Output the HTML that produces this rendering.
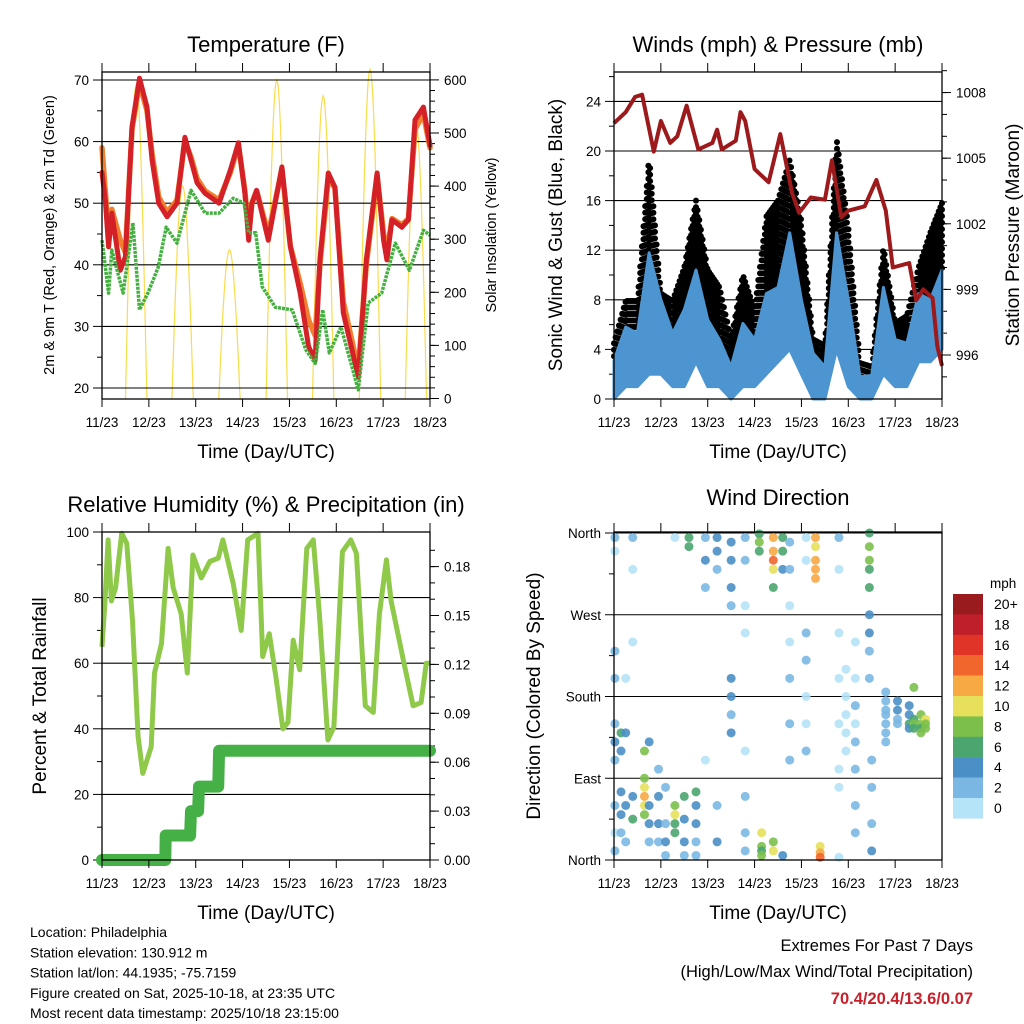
<!DOCTYPE html>
<html><head><meta charset="utf-8">
<style>
html,body{margin:0;padding:0;background:#fff;}
svg{display:block;font-family:"Liberation Sans",Arial,sans-serif;}
</style></head>
<body>
<svg id="fig" width="1024" height="1024" viewBox="0 0 1024 1024" xmlns="http://www.w3.org/2000/svg">
<rect width="1024" height="1024" fill="#fff"/>
</svg>
<script>
// ---------- DATA ----------
const dayLabels = ["11/23","12/23","13/23","14/23","15/23","16/23","17/23","18/23"];
// Temperature panel
const tempDays = [0,0.07,0.14,0.21,0.39,0.5,0.64,0.8,0.96,1.07,1.21,1.39,1.6,1.77,1.9,2.03,2.2,2.5,2.74,2.91,3.05,3.13,3.2,3.3,3.55,3.84,4.02,4.23,4.41,4.55,4.65,4.83,4.97,5.15,5.47,5.64,5.87,6.01,6.08,6.19,6.4,6.54,6.68,6.86,7];
const temp9m = [55,50.5,42.9,48.4,39.1,41.3,62.4,70.3,65.6,57,50,47.8,50,60.7,57,53.3,51.6,50,55.4,59.8,51.6,44,50,52.1,44,55.9,42.9,35.4,26.7,24.5,40.8,54.9,52.6,32.2,21.8,40.8,54.9,44,40.8,47.3,46.1,47.3,63.5,65.6,59.4];
const temp2m = [59,52,45,49,44,42,62,69.5,65,58,51,48.5,50.5,60,57.5,54,52,50.5,55,59.5,52,45,50,52,45,55.5,43,37,31,28.5,40,54,52.5,34,23,40,54.5,45,42,47.5,46.5,47.5,62,64.5,59];
const dewDays = [0,0.14,0.21,0.45,0.66,0.8,0.98,1.2,1.37,1.6,1.9,2.2,2.5,2.8,3.03,3.13,3.28,3.42,3.7,4.06,4.35,4.55,4.71,4.85,5.1,5.47,5.68,5.97,6.26,6.56,6.86,7];
const dewPoint = [44,35.4,42.4,35.4,46.8,32.7,35.4,39.6,46.1,43.5,52.1,48.4,48.4,50.8,50,45.2,45.2,36.4,33.1,32.7,26.2,24,32.7,25.7,29.9,19.7,33.8,35.4,43.5,39.1,45.6,44.8];
const solarNoon = [0.73,1.72,2.72,3.73,4.72,5.72,6.7];
const solarPeak = [590,400,280,600,570,620,520];
// Wind panel
const windDays = [0,0.25,0.5,0.75,1,1.25,1.5,1.75,2,2.25,2.5,2.75,3,3.25,3.5,3.75,4,4.25,4.5,4.75,5,5.25,5.5,5.75,6,6.25,6.5,6.75,7];
const windHigh = [3.1,5.8,5.3,11.8,8,5.3,7.2,10.4,6.4,4.8,2.6,6.1,4.8,8.5,9,13.4,8,3.7,2.6,13.4,8,1.8,1.9,9,4.8,4.5,8.5,8,10.4];
const windLow = [0,1,1,2,2,1,1,3,1,1,0,1,1,2,3,4,2,0,0,4,1,0,0,2,1,1,3,3,4];
const windGust = [4.5,7.9,7.9,19.5,8.5,7.9,10.6,16,10.4,9,4.8,10,7.2,14.7,16,19.3,14.3,4.8,4.3,21,13.9,2.9,2.6,12.3,6.1,6.7,10.6,13.4,15.8];
const presDays = [0,0.25,0.45,0.6,0.85,1,1.2,1.35,1.55,1.8,2.1,2.2,2.3,2.6,2.7,2.8,3,3.3,3.55,3.8,3.95,4.2,4.5,4.65,4.85,5,5.35,5.6,5.8,5.95,6.3,6.45,6.6,6.8,6.9,7];
const pressure = [1006.6,1007.1,1007.8,1007.9,1005.3,1006.7,1005.7,1006,1007.4,1005.4,1005.7,1006.3,1005.4,1005.8,1007.1,1006.7,1004.5,1003.9,1006.1,1003.4,1002.5,1003.2,1003.1,1004.9,1002.3,1002.6,1002.8,1004,1002.6,1000,1000.2,998.5,999,998.6,996.4,995.5];
// RH panel
const rhDays = [0,0.06,0.13,0.2,0.29,0.42,0.53,0.65,0.77,0.87,1.05,1.12,1.27,1.41,1.52,1.69,1.82,1.94,2.12,2.3,2.48,2.58,2.8,2.97,3.11,3.33,3.43,3.57,3.71,3.86,3.97,4.08,4.22,4.37,4.51,4.64,4.82,4.95,5.13,5.31,5.43,5.62,5.79,5.92,6.07,6.17,6.43,6.64,6.81,6.92,7];
const rhVals = [65,78,97.6,79,83,99.6,96.5,73,37.6,26.4,34.5,57,66,95,83,75,57,93,86,91,92,97.6,84.3,70,97.6,99.6,62,69,56,40,42,67,58,95,97.6,75,36.6,40.6,94,97.6,93.5,47,45,75,91.5,79,61,47,48,60,60];
const rainDays = [0,1.35,1.36,1.88,1.9,2.05,2.07,2.48,2.5,7];
const rainCum = [0,0,0.015,0.015,0.03,0.03,0.045,0.045,0.067,0.067];
// Wind direction panel: day, direction deg, speed mph
const dirDay = [0.02,0.02,0.02,0.02,0.02,0.02,0.02,0.02,0.02,0.02,0.15,0.15,0.15,0.15,0.15,0.25,0.25,0.25,0.25,0.4,0.4,0.4,0.4,0.4,0.65,0.65,0.65,0.65,0.65,0.65,0.75,0.75,0.75,0.75,0.95,0.95,0.95,0.95,1.1,1.1,1.1,1.1,1.3,1.3,1.3,1.3,1.3,1.5,1.5,1.5,1.5,1.6,1.6,1.75,1.75,1.75,1.75,1.75,1.95,1.95,1.95,1.95,2.2,2.2,2.2,2.2,2.2,2.5,2.5,2.5,2.5,2.5,2.5,2.5,2.5,2.8,2.8,2.8,2.8,2.8,2.8,2.8,2.8,3.1,3.1,3.1,3.15,3.15,3.15,3.15,3.4,3.4,3.4,3.4,3.4,3.4,3.4,3.6,3.6,3.6,3.6,3.75,3.75,3.75,3.75,3.75,3.75,3.75,4.1,4.1,4.1,4.1,4.1,4.1,4.1,4.3,4.3,4.3,4.3,4.3,4.4,4.4,4.4,4.8,4.8,4.8,4.8,4.8,4.8,4.8,4.8,4.95,4.95,4.95,4.95,4.95,5.15,5.15,5.15,5.15,5.15,5.15,5.15,5.15,5.45,5.45,5.45,5.45,5.45,5.45,5.45,5.45,5.45,5.5,5.5,5.5,5.5,5.8,5.8,5.8,5.8,5.8,5.8,5.8,6.05,6.05,6.05,6.05,6.3,6.3,6.3,6.3,6.4,6.4,6.4,6.4,6.55,6.55,6.55,6.55,6.65,6.65,6.65];
const dirDeg = [355,340,230,200,150,130,110,60,30,10,140,120,75,50,30,200,140,60,20,355,320,240,70,45,90,80,70,60,50,120,130,60,40,20,100,70,40,20,80,40,20,5,60,50,40,30,355,70,45,20,5,355,345,75,60,40,20,5,355,330,300,110,355,340,320,60,20,350,330,300,280,200,180,160,140,355,330,280,250,120,70,30,10,359,350,340,15,10,5,30,355,340,330,320,300,20,10,355,340,320,5,350,320,280,240,200,150,110,355,330,250,220,180,150,120,355,345,330,320,310,15,8,3,355,320,250,200,150,100,80,3,210,180,160,140,120,240,200,170,150,130,100,60,30,360,345,330,320,300,270,250,230,200,110,80,40,10,185,175,165,160,150,140,130,175,165,155,150,160,150,145,170,155,150,145,190,160,150,145,140,155,150,145];
const dirSpd = [2,1,3,2,3,4,2,3,1,2,6,4,5,4,3,1,4,4,2,2,1,1,5,6,8,10,12,10,8,8,4,4,4,3,3,4,5,3,3,3,4,2,8,10,7,6,1,6,4,4,3,6,6,7,4,4,3,2,3,4,2,1,4,4,3,2,4,5,4,4,2,4,4,3,4,2,2,1,1,1,2,3,3,7,8,6,8,7,9,10,12,12,14,10,7,9,10,6,6,4,4,2,2,1,1,2,2,2,1,1,2,2,1,1,3,12,10,13,12,12,10,12,14,2,1,1,1,1,1,1,1,1,1,1,1,1,1,1,3,1,3,2,2,2,7,8,8,6,6,4,4,3,3,3,2,3,4,2,2,2,3,3,3,2,4,4,3,2,5,6,5,4,7,8,7,8,9,8,6,8,10,8,9];
const speedBins = ["20+","18","16","14","12","10","8","6","4","2","0"];
const binColors = ["#991b1e","#bf1f2a","#df3427","#f0662c","#f7a944","#e6e05a","#7cc04b","#4aa56e","#4a8fc6","#7ab8e3","#b5e3f7"];

// ---------- HELPERS ----------
const svg = document.getElementById('fig');
const NS = 'http://www.w3.org/2000/svg';
function mk(tag, attrs, parent){const e=document.createElementNS(NS,tag);for(const k in attrs)e.setAttribute(k,attrs[k]);(parent||svg).appendChild(e);return e;}
function txt(s, x, y, size, anchor, parent, extra){const t=mk('text',Object.assign({x:x,y:y,'font-size':size,'text-anchor':anchor||'middle',fill:'#000'},extra||{}),parent);t.textContent=s;return t;}
function poly(xs, ys){return xs.map((x,i)=>x.toFixed(1)+','+ys[i].toFixed(1)).join(' ');}
function interp(xs, ys, x){for(let i=0;i<xs.length-1;i++){if(x>=xs[i]&&x<=xs[i+1]){const f=(x-xs[i])/(xs[i+1]-xs[i]);return ys[i]+f*(ys[i+1]-ys[i]);}}return ys[ys.length-1];}

function panel(name, x0, x1, y0, y1){
  const g = mk('g',{});
  
  
  return {g:g, x0:x0, x1:x1, y0:y0, y1:y1, xd:d=>x0+d*(x1-x0)/7};
}
function frameAndTimeAxis(p){
  const f = mk('rect',{x:p.x0,y:p.y0,width:p.x1-p.x0,height:p.y1-p.y0,fill:'none',stroke:'#000','stroke-width':1.3},p.g);
  
  
  const ax = mk('g',{},p.g);
  
  
  dayLabels.forEach((lab,i)=>{
    const x=p.xd(i);
    mk('line',{x1:x,x2:x,y1:p.y0,y2:p.y0-9,stroke:'#000','stroke-width':1},ax);
    mk('line',{x1:x,x2:x,y1:p.y1,y2:p.y1+8,stroke:'#000','stroke-width':1},ax);
    const t=txt(lab,x,p.y1+28,13.5,'middle',ax);
    
    
  });
  const tt=txt('Time (Day/UTC)',(p.x0+p.x1)/2,p.y1+59,19,'middle',p.g);
  
  
}
function leftAxis(p, vals, labels, yf, minorVals, grid){
  const ax = mk('g',{},p.g);
  
  
  vals.forEach((v,i)=>{
    const y=yf(v);
    if(grid) mk('line',{x1:p.x0,x2:p.x1,y1:y,y2:y,stroke:'#000','stroke-width':1.1},ax);
    mk('line',{x1:p.x0-9,x2:p.x0,y1:y,y2:y,stroke:'#000','stroke-width':1},ax);
    const t=txt(labels[i],p.x0-13,y+5,13.5,'end',ax);
    
    
  });
  (minorVals||[]).forEach(v=>{const y=yf(v);mk('line',{x1:p.x0-5,x2:p.x0,y1:y,y2:y,stroke:'#000','stroke-width':1},ax);});
}
function rightAxis(p, vals, labels, yf, minorVals){
  const ax = mk('g',{},p.g);
  
  
  vals.forEach((v,i)=>{
    const y=yf(v);
    mk('line',{x1:p.x1,x2:p.x1+9,y1:y,y2:y,stroke:'#000','stroke-width':1},ax);
    const t=txt(labels[i],p.x1+14,y+5,13.5,'start',ax);
    
    
  });
  (minorVals||[]).forEach(v=>{const y=yf(v);mk('line',{x1:p.x1,x2:p.x1+5,y1:y,y2:y,stroke:'#000','stroke-width':1},ax);});
}
function vtitle(s,x,y,size,name,parent){
  const t=txt(s,x,y,size,'middle',parent,{transform:'rotate(-90 '+x+' '+y+')'});
  
  
}
function title(s,x,y,parent){
  const t=txt(s,x,y,22,'middle',parent);
  
  
}
function range(a,b,s){const r=[];for(let v=a;v<=b+1e-9;v+=s)r.push(+v.toFixed(4));return r;}

// ---------- PANEL 1: TEMPERATURE ----------
const p1 = panel('temperature-panel',102,430,72,399);
const yT = t=>388-(t-20)*6.16;
const yS = s=>398.5-s*0.531;
const solG = mk('g',{},p1.g);


solarNoon.forEach((c,i)=>{
  const xs=[],ys=[];
  for(let k=-12;k<=12;k++){const d=c+k*0.019;const s=solarPeak[i]*Math.max(0,Math.cos(k/12*Math.PI/2));xs.push(p1.xd(d));ys.push(yS(s));}
  mk('polyline',{points:poly(xs,ys),fill:'none',stroke:'#f9dc4a','stroke-width':1.2},solG);
});
leftAxis(p1,[20,30,40,50,60,70],["20","30","40","50","60","70"],yT,range(25,65,10),true);
rightAxis(p1,[0,100,200,300,400,500,600],["0","100","200","300","400","500","600"],yS,range(20,580,20));
const l2m = mk('polyline',{points:poly(tempDays.map(p1.xd),temp2m.map(yT)),fill:'none',stroke:'#f08030','stroke-width':5.5,'stroke-linejoin':'round','stroke-linecap':'round'},p1.g);


const l9m = mk('polyline',{points:poly(tempDays.map(p1.xd),temp9m.map(yT)),fill:'none',stroke:'#d42027','stroke-width':5,'stroke-linejoin':'round','stroke-linecap':'round'},p1.g);


const ldp = mk('polyline',{points:poly(dewDays.map(p1.xd),dewPoint.map(yT)),fill:'none',stroke:'#44b040','stroke-width':3.5,'stroke-linejoin':'round','stroke-dasharray':'3 1'},p1.g);


frameAndTimeAxis(p1);
title('Temperature (F)',266,52,p1.g);
vtitle('2m & 9m T (Red, Orange) & 2m Td (Green)',54,235,14.5,'left-y-axis-title',p1.g);
vtitle('Solar Insolation (Yellow)',496,235,14.5,'right-y-axis-title',p1.g);

// ---------- PANEL 2: WINDS ----------
const p2 = panel('winds-panel',614,942,72,399);
const yW = w=>399-w*12.4;
const yP = p=>355-(p-996)*21.87;
leftAxis(p2,[0,4,8,12,16,20,24],["0","4","8","12","16","20","24"],yW,range(2,26,4),true);
rightAxis(p2,[996,999,1002,1005,1008],["996","999","1002","1005","1008"],yP,range(995,1009,1));
const gustG = mk('g',{},p2.g);


for(let d=0; d<=7.0001; d+=0.035){
  const hi=interp(windDays,windHigh,d), gu=interp(windDays,windGust,d);
  const x=p2.xd(d);
  for(let y=yW(gu); y<yW(hi)+2; y+=6.5){
    const c=mk('circle',{cx:x.toFixed(1),cy:y.toFixed(1),r:3,fill:'#000'},gustG);
    
    
  }
}
const gx = windDays.map(p2.xd);
const windArea = mk('polygon',{points:poly(gx.concat(gx.slice().reverse()),windHigh.map(yW).concat(windLow.map(yW).reverse())),fill:'#4d95d0',stroke:'#4d95d0','stroke-width':3,'stroke-linejoin':'round'},p2.g);


const pl = mk('polyline',{points:poly(presDays.map(p2.xd),pressure.map(yP)),fill:'none',stroke:'#9c1a1c','stroke-width':4,'stroke-linejoin':'round'},p2.g);


frameAndTimeAxis(p2);
title('Winds (mph) & Pressure (mb)',778,52,p2.g);
vtitle('Sonic Wind & Gust (Blue, Black)',562,235,19,'left-y-axis-title',p2.g);
vtitle('Station Pressure (Maroon)',1019,235,19,'right-y-axis-title',p2.g);

// ---------- PANEL 3: RH ----------
const p3 = panel('humidity-panel',102,430,532,860);
const yRH = r=>860-r*3.28;
const yPr = p=>860-p*1630;
leftAxis(p3,[0,20,40,60,80,100],["0","20","40","60","80","100"],yRH,range(10,90,20),true);
rightAxis(p3,[0,0.03,0.06,0.09,0.12,0.15,0.18],["0.00","0.03","0.06","0.09","0.12","0.15","0.18"],yPr,range(0.01,0.19,0.01));
const rhl = mk('polyline',{points:poly(rhDays.map(p3.xd),rhVals.map(yRH)),fill:'none',stroke:'#8fc94a','stroke-width':5,'stroke-linejoin':'round'},p3.g);


const rnl = mk('polyline',{points:poly(rainDays.map(p3.xd),rainCum.map(yPr)),fill:'none',stroke:'#45b046','stroke-width':12,'stroke-linejoin':'round','stroke-linecap':'round'},p3.g);


frameAndTimeAxis(p3);
title('Relative Humidity (%) & Precipitation (in)',266,512,p3.g);
vtitle('Percent & Total Rainfall',46,696,19,'left-y-axis-title',p3.g);

// ---------- PANEL 4: WIND DIRECTION ----------
const p4 = panel('wind-direction-panel',614,942,532,860);
const yD = d=>860-d*327/360;
leftAxis(p4,[0,90,180,270,360],["North","East","South","West","North"],yD,[45,135,225,315],true);
const ptsG = mk('g',{},p4.g);


function spdColor(s){const bin=Math.min(10,Math.floor(s/2));return binColors[10-bin];}
dirDay.forEach((d,i)=>{
  const c=mk('circle',{cx:p4.xd(d),cy:yD(dirDeg[i]),r:4.5,fill:spdColor(dirSpd[i]),'fill-opacity':0.9},ptsG);
  
  
});
frameAndTimeAxis(p4);
title('Wind Direction',778,505,p4.g);
vtitle('Direction (Colored By Speed)',540,696,19,'left-y-axis-title',p4.g);
const cb = mk('g',{});


const cbt=txt('mph',990,588,13.5,'start',cb);


speedBins.forEach((lab,i)=>{
  const y=594+i*20.4;
  const r=mk('rect',{x:953,y:y,width:30,height:20.6,fill:binColors[i]},cb);
  
  
  const t=txt(lab,994,y+15,14,'start',cb);
  
  
});

// ---------- FOOTER ----------
const foot = mk('g',{});


["Location: Philadelphia","Station elevation: 130.912 m","Station lat/lon: 44.1935; -75.7159","Figure created on Sat, 2025-10-18, at 23:35 UTC","Most recent data timestamp: 2025/10/18 23:15:00"].forEach((s,i)=>{
  const t=txt(s,30,937+i*20.3,14,'start',foot);
  
  
});
const ext = mk('g',{});


const e1=txt('Extremes For Past 7 Days',973,951,16.5,'end',ext);


const e2=txt('(High/Low/Max Wind/Total Precipitation)',973,977,16.5,'end',ext);


const e3=txt('70.4/20.4/13.6/0.07',973,1004,16.5,'end',ext,{fill:'#c8202a','font-weight':'bold'});


</script>
</body></html>
